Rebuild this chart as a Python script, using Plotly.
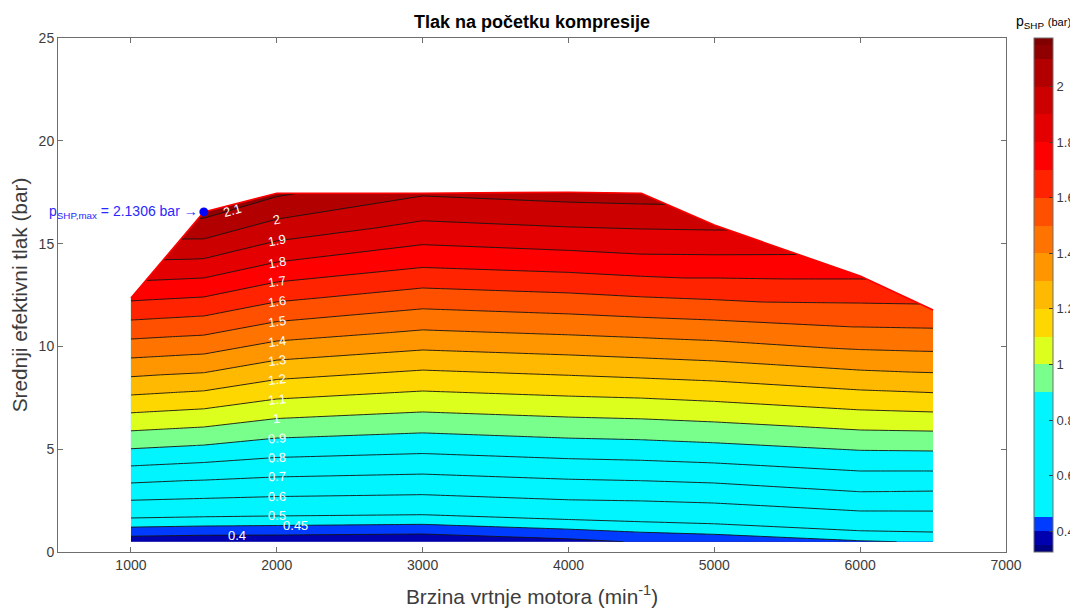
import math
import numpy as np
import plotly.graph_objects as go

# ---------------- data ----------------
rpm = [1000, 1500, 2000, 3000, 4000, 4500, 5000, 6000, 6500]
load_fraction = [0.0, 0.1, 0.2, 0.3, 0.4, 0.5, 0.6, 0.7, 0.8, 0.9, 1.0]

# mean effective pressure (bar) at each operating point: rows = load, cols = rpm
bmep = [
    [0.50, 0.50, 0.50, 0.50, 0.50, 0.50, 0.50, 0.50, 0.50],
    [1.69, 2.10, 2.20, 2.20, 2.20, 2.20, 2.04, 1.79, 1.63],
    [2.87, 3.71, 3.89, 3.89, 3.90, 3.89, 3.58, 3.08, 2.75],
    [4.06, 5.31, 5.59, 5.59, 5.60, 5.59, 5.12, 4.38, 3.88],
    [5.24, 6.92, 7.28, 7.28, 7.30, 7.28, 6.66, 5.67, 5.01],
    [6.43, 8.52, 8.98, 8.98, 9.00, 8.98, 8.20, 6.96, 6.14],
    [7.61, 10.12, 10.67, 10.67, 10.70, 10.67, 9.74, 8.25, 7.26],
    [8.80, 11.73, 12.37, 12.37, 12.40, 12.37, 11.28, 9.54, 8.39],
    [9.98, 13.33, 14.06, 14.06, 14.10, 14.06, 12.82, 10.84, 9.52],
    [11.17, 14.94, 15.76, 15.76, 15.80, 15.76, 14.36, 12.13, 10.64],
    [12.35, 16.54, 17.45, 17.45, 17.50, 17.45, 15.90, 13.42, 11.77],
]

# pressure at the start of compression p_SHP (bar)
p_shp = [
    [0.370, 0.365, 0.365, 0.360, 0.385, 0.405, 0.415, 0.445, 0.455],
    [0.504, 0.543, 0.548, 0.541, 0.566, 0.571, 0.565, 0.578, 0.563],
    [0.641, 0.724, 0.725, 0.710, 0.736, 0.743, 0.723, 0.716, 0.678],
    [0.785, 0.913, 0.905, 0.880, 0.906, 0.913, 0.881, 0.843, 0.794],
    [0.926, 1.095, 1.083, 1.046, 1.072, 1.079, 1.033, 0.973, 0.910],
    [1.061, 1.278, 1.262, 1.213, 1.240, 1.253, 1.188, 1.105, 1.027],
    [1.197, 1.454, 1.444, 1.387, 1.414, 1.425, 1.346, 1.238, 1.149],
    [1.331, 1.627, 1.621, 1.553, 1.580, 1.596, 1.500, 1.372, 1.267],
    [1.459, 1.800, 1.796, 1.722, 1.750, 1.765, 1.655, 1.491, 1.379],
    [1.588, 1.971, 1.961, 1.871, 1.899, 1.904, 1.792, 1.602, 1.479],
    [1.715, 2.1306, 2.115, 2.011, 2.040, 2.043, 1.920, 1.712, 1.576],
]

p_max = 2.1306
p_max_rpm = 1500
p_max_bmep = 16.54

label_levels = [0.4, 0.45, 0.5, 0.6, 0.7, 0.8, 0.9, 1.0, 1.1, 1.2, 1.3, 1.4,
                1.5, 1.6, 1.7, 1.8, 1.9, 2.0, 2.1]
x_ticks = [1000, 2000, 3000, 4000, 5000, 6000, 7000]
y_ticks = [0, 5, 10, 15, 20, 25]
cbar_ticks = [0.4, 0.6, 0.8, 1.0, 1.2, 1.4, 1.6, 1.8, 2.0]

# ---------------- styling ----------------
FONT = "Liberation Sans, Arial, Helvetica, sans-serif"
AX_COL = "rgb(110,110,110)"
TXT_COL = "rgb(60,60,60)"

# the page has an 8 px body margin: figure is 1070 x 602 drawn at (8, 8)
W, H = 1070, 602
OFF = 8
# plot-area geometry in figure pixels
PL, PR, PT, PB = 58 - OFF, 1006 - OFF, 38 - OFF, 552 - OFF

# band colours (upper bound of band value -> colour)
band_table = [
    (0.35, "rgb(0,0,130)"),
    (0.40, "rgb(0,0,175)"),
    (0.45, "rgb(0,60,255)"),
    (0.90, "rgb(0,245,255)"),
    (1.00, "rgb(120,255,140)"),
    (1.10, "rgb(220,255,30)"),
    (1.20, "rgb(255,215,0)"),
    (1.30, "rgb(255,185,0)"),
    (1.40, "rgb(255,150,0)"),
    (1.50, "rgb(255,115,0)"),
    (1.60, "rgb(255,80,0)"),
    (1.70, "rgb(255,35,0)"),
    (1.80, "rgb(255,0,0)"),
    (1.90, "rgb(228,0,0)"),
    (2.00, "rgb(205,0,0)"),
    (2.10, "rgb(178,0,0)"),
    (2.15, "rgb(145,0,0)"),
    (9.99, "rgb(128,0,0)"),
]

f_start, f_end, f_size = 0.35, 2.16, 0.05
n_levels = int(math.floor((f_end - f_start) / f_size + 1e-9)) + 1  # 37
n_bands = n_levels + 1
colorscale = []
for k in range(n_bands):
    mid = f_start - f_size / 2 + k * f_size
    col = next(c for ub, c in band_table if mid < ub)
    colorscale.append([k / (n_bands - 1), col])

x_grid = [list(rpm) for _ in load_fraction]

fig = go.Figure()

fig.add_trace(go.Carpet(
    carpet="c1",
    a=rpm, b=load_fraction, x=x_grid, y=bmep,
    aaxis=dict(showgrid=False, showline=False, showticklabels="none",
               startline=False, endline=False, minorgridcount=0,
               smoothing=0, color="rgba(0,0,0,0)"),
    baxis=dict(showgrid=False, showline=False, showticklabels="none",
               startline=False, endline=False, minorgridcount=0,
               smoothing=0, color="rgba(0,0,0,0)"),
))

pw = PR - PL
ph = PB - PT
fig.add_trace(go.Contourcarpet(
    carpet="c1", a=rpm, b=load_fraction, z=p_shp,
    autocontour=False,
    contours=dict(start=f_start, end=f_end, size=f_size, coloring="fill",
                  showlines=False),
    line=dict(width=0, smoothing=0),
    colorscale=colorscale,
    colorbar=dict(
        x=(1034 - OFF - PL) / pw, xanchor="left", y=0.5, yanchor="middle",
        len=1, lenmode="fraction", thickness=19, thicknessmode="pixels",
        ypad=0, xpad=0, outlinewidth=1, outlinecolor=AX_COL,
        tickvals=cbar_ticks, ticktext=[f"{v:g}" for v in cbar_ticks],
        ticks="inside", ticklen=4, tickcolor="rgb(60,60,60)",
        tickfont=dict(family=FONT, size=13, color=TXT_COL),
    ),
))

# contour lines 0.5 ... 2.1
fig.add_trace(go.Contourcarpet(
    carpet="c1", a=rpm, b=load_fraction, z=p_shp,
    autocontour=False,
    contours=dict(start=0.5, end=2.15, size=0.1, coloring="none"),
    line=dict(color="rgb(20,20,20)", width=0.9, smoothing=0),
    showscale=False,
))
# contour lines 0.4, 0.45
fig.add_trace(go.Contourcarpet(
    carpet="c1", a=rpm, b=load_fraction, z=p_shp,
    autocontour=False,
    contours=dict(start=0.4, end=0.46, size=0.05, coloring="none"),
    line=dict(color="rgb(20,20,20)", width=0.9, smoothing=0),
    showscale=False,
))

# full-load boundary (red)
fig.add_trace(go.Scatter(
    x=rpm, y=bmep[-1], mode="lines",
    line=dict(color="rgb(255,0,0)", width=1.6),
    hoverinfo="skip", showlegend=False,
))

# maximum point
fig.add_trace(go.Scatter(
    x=[p_max_rpm], y=[p_max_bmep], mode="markers",
    marker=dict(color="rgb(0,0,255)", size=9),
    hoverinfo="skip", showlegend=False,
))

# ---------------- contour labels ----------------
P = np.array(p_shp)
B = np.array(bmep)
R = np.array(rpm, dtype=float)
px_per_rpm = pw / 6500.0
px_per_bar = ph / 25.0


def level_y_at(col, level):
    return float(np.interp(level, P[:, col], B[:, col]))


def level_y_at_rpm(r, level):
    i = int(np.searchsorted(R, r)) - 1
    i = max(0, min(i, len(R) - 2))
    t = (r - R[i]) / (R[i + 1] - R[i])
    return (1 - t) * level_y_at(i, level) + t * level_y_at(i + 1, level)


label_rpm = {0.4: 1730, 2.1: 1690, 0.45: 2130}
annotations = []
for lv in label_levels:
    lx = label_rpm.get(lv, 2000)
    ly = level_y_at_rpm(lx, lv)
    dx = 150
    y_r = level_y_at_rpm(min(lx + dx, 6500), lv)
    y_l = level_y_at_rpm(max(lx - dx, 1000), lv)
    ang = -math.degrees(math.atan2((y_r - y_l) * px_per_bar, 2 * dx * px_per_rpm))
    annotations.append(dict(
        x=lx, y=ly, text=f"{lv:g}", showarrow=False,
        textangle=ang, xanchor="center", yanchor="middle",
        font=dict(family=FONT, size=13, color="white"),
    ))

annotations.append(dict(
    x=p_max_rpm, y=p_max_bmep, xanchor="right", yanchor="middle", xshift=-4,
    text=f"p<sub>SHP,max</sub> = {p_max} bar \u2192", showarrow=False,
    font=dict(family=FONT, size=14, color="rgb(40,40,255)"),
))

# colour-bar title
annotations.append(dict(
    xref="paper", yref="paper",
    x=(1043.5 - OFF - PL) / pw, y=(PB - (22 - OFF)) / ph,
    xanchor="center", yanchor="middle",
    text="p<sub>SHP</sub> <span style='font-size:11px'>(bar)</span>",
    showarrow=False, font=dict(family=FONT, size=14, color="black"),
))

axis_common = dict(
    showline=True, linecolor=AX_COL, linewidth=1, mirror="ticks",
    ticks="inside", ticklen=5, tickcolor=AX_COL, showgrid=False,
    zeroline=False, tickfont=dict(family=FONT, size=14, color=TXT_COL),
)

fig.update_layout(
    width=W, height=H,
    margin=dict(l=PL, r=W - PR, t=PT, b=H - PB, autoexpand=False),
    paper_bgcolor="white", plot_bgcolor="white",
    showlegend=False,
    font=dict(family=FONT),
    title=dict(text="<b>Tlak na početku kompresije</b>", x=0.5, xref="paper",
               xanchor="center", y=1 - (22 - OFF) / H, yanchor="middle",
               font=dict(family=FONT, size=18, color="black")),
    xaxis=dict(range=[500, 7000], tickvals=x_ticks,
               title=dict(text="Brzina vrtnje motora (min<sup>-1</sup>)",
                          font=dict(family=FONT, size=20.8, color=TXT_COL),
                          standoff=17),
               **axis_common),
    yaxis=dict(range=[0, 25], tickvals=y_ticks,
               title=dict(text="Srednji efektivni tlak (bar)",
                          font=dict(family=FONT, size=20.8, color=TXT_COL),
                          standoff=5),
               **axis_common),
    annotations=annotations,
)

fig.write_html("out.html")
